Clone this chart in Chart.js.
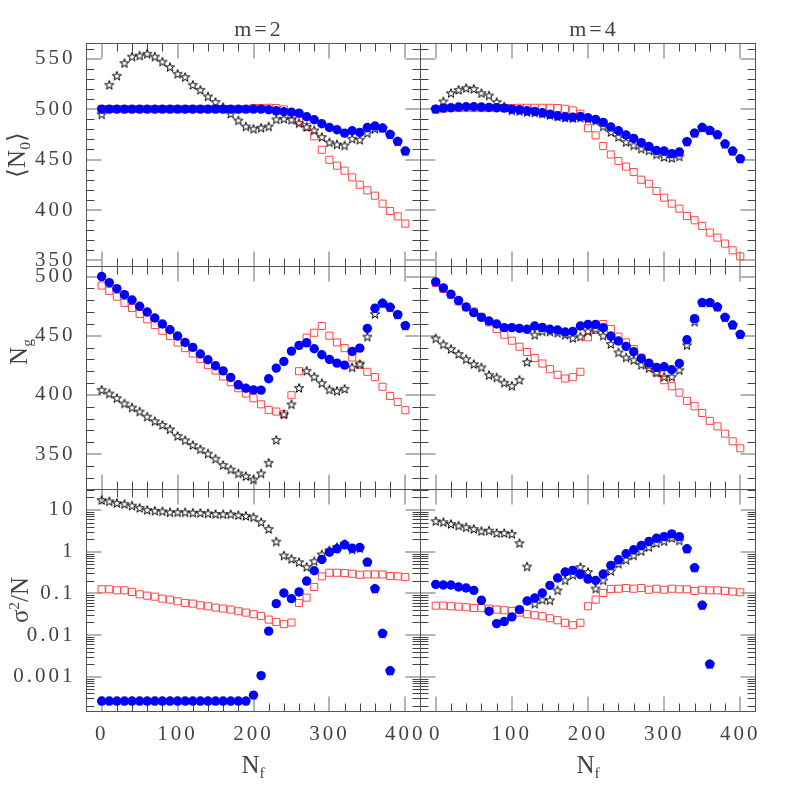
<!DOCTYPE html>
<html><head><meta charset="utf-8">
<script src="https://cdn.jsdelivr.net/npm/chart.js@4.4.1/dist/chart.umd.min.js"></script>
<style>
html,body{margin:0;padding:0;background:#fff;}
#wrap{position:relative;width:797px;height:797px;overflow:hidden;background:#fff;}
#wrap canvas{position:absolute;left:0;top:0;}
.t{position:absolute;font-family:"Liberation Serif",serif;color:#444;white-space:nowrap;line-height:1;transform:translate(-50%,-50%);}
.r{transform:translate(-50%,-50%) rotate(-90deg);}
.t sub{font-size:62%;vertical-align:-0.35em;line-height:0;}
.t sup{font-size:62%;vertical-align:0.55em;line-height:0;}
</style></head><body>
<div id="wrap">
<canvas id="c00" width="797" height="797"></canvas>
<canvas id="c01" width="797" height="797"></canvas>
<canvas id="c10" width="797" height="797"></canvas>
<canvas id="c11" width="797" height="797"></canvas>
<canvas id="c20" width="797" height="797"></canvas>
<canvas id="c21" width="797" height="797"></canvas>
<div class="t" style="left:259px;top:29px;font-size:22px;letter-spacing:3px;">m=2</div>
<div class="t" style="left:594px;top:29px;font-size:22px;letter-spacing:3px;">m=4</div>
<div class="t" style="left:253px;top:764px;font-size:25px;">N<sub>f</sub></div>
<div class="t" style="left:588px;top:764px;font-size:25px;">N<sub>f</sub></div>
<div class="t r" style="left:16px;top:155px;font-size:25px;">⟨N<sub>0</sub>⟩</div>
<div class="t r" style="left:18px;top:352px;font-size:25px;">N<sub>g</sub></div>
<div class="t r" style="left:19px;top:600px;font-size:25px;">σ<sup>2</sup>/N</div>
</div>
<script>
// ---------------- data ----------------
const nf = [0,10,20,30,40,50,60,70,80,90,100,110,120,130,140,150,160,170,180,190,200,
            210,220,230,240,250,260,270,280,290,300,310,320,330,340,350,360,370,380,390,400];

const xTicks = [0,100,200,300,400];
const yTicksN0 = [350,400,450,500,550];
const yTicksNg = [350,400,450,500];
const yTicksVar = [0.001,0.01,0.1,1,10];
const yTickVarLabels = ['0.001','0.01','0.1','1','10'];

// <N0>, m=2
const n0m2Circ = [500,500,500,500,500,500,500,500,500,500,500,500,500,500,500,500,500,500,500,500,
  500,500,499.3,498.3,497.4,497,496,492.4,489.4,485.5,481.8,479.5,476.2,478.5,476.9,481.8,483.2,481.2,474.9,468,458.4];
const n0m2Sq = [500,500,500,500,500,500,500,500,500,500,500,500,500,500,500,500,500,500,500,500,
  501,501,501.3,501,499.7,495,488,482.2,473,459.7,449.8,443.9,439,432.3,425,419.5,414.2,406.3,399,393.7,386.5];
const n0m2Star = [494.7,524,533,545.5,552,553,554.8,552,547,541.6,535,531.7,524,519,512.5,507,502,495.4,488.8,482.8,
  480.5,481.5,482.8,489.8,490.4,489.4,486,482.2,478.9,472.3,467,465,464,470.6,469.6,476.2,480.5,481.2,474.9,468,458.4];

// <N0>, m=4
const n0m4Circ = [500,501,501.3,502,502.3,502.3,502,501.7,501.3,501,500,499.3,498.3,497.7,496.4,495,493.4,492.4,492,492.7,
  491.4,489.8,486.8,482.2,478.5,474.3,471,466.7,463,459,458.4,455.8,457.4,467.7,476.2,481.8,478.9,474.6,465.4,458.4,450.8];
const n0m4Sq = [500,500.5,501,501,501,501,501,501,501,501,501,501.3,501.3,501.3,501.3,501.3,501,500.3,498.7,495.4,
  481,474,463.4,455,448.5,443,437.6,430,426,418.8,412.2,406.3,401.3,394,389.8,384.2,377.6,372.6,366.7,360,354];
const n0m4Star = [500,507.6,515.8,519,520.8,520,515.8,513.5,507,502.6,498.7,498,497,496.5,495.5,494,492.5,491.5,491,491.5,
  490.5,488.5,482.8,477.2,472.3,467.3,464,460.7,459,455,452.5,451.5,453,467.7,476.2,481.8,478.9,474.6,465.4,458.4,450.8];

// Ng, m=2
const ngm2Circ = [500,494.9,489.8,484.7,480.2,474.9,470,465,459.9,455,449.7,444.3,440.1,434.5,429.7,424.6,420.3,414.7,408.5,405.6,
  404.2,404,413.6,422.6,428.2,437,441.8,444,439,433.9,430,426.8,425.1,436.7,439.5,456.2,473.2,477.4,474,467.8,458.5];
const ngm2Sq = [492.4,487.9,483,477.7,473.4,468.4,463.8,459,454.2,449.7,444.3,439.5,435,430.2,425.1,420.6,415.5,410.7,405.6,401.1,
  397.2,392,387.3,385.9,383.6,399.7,420,448.3,452.5,458.2,450,444.3,439.5,431.6,425.4,419.5,415,406.8,399.1,394,387];
const ngm2Star = [404.2,401.1,397.2,392.7,389.3,385.9,381.6,377.7,374.6,370.9,365.2,361.6,357.6,354,350.3,346,340.7,337,333.6,331.3,
  328.5,333.6,342.6,361.9,383.6,392,405.9,420.3,415.3,409.9,404.5,403.4,405.1,423.2,426,449.2,468.4,477.4,474,467.8,458.5];

// Ng, m=4
const ngm4Circ = [495.5,490.4,485,479.7,474.3,469.5,465.5,462.4,459.9,456.8,456.8,456.2,455.4,458.2,457,455.4,454.8,453.1,453.7,458.2,
  459.6,459.6,456.8,449.7,445.5,441,436.4,430.8,426.8,423.2,423.7,421.2,426.5,446.6,464.4,478,478,474.3,465.5,459,451.1];
const ngm4Sq = [494.5,489.5,484.5,479,474,470.5,466,461.3,455.7,450.8,445.8,440.7,436.2,431.1,426.5,421.7,417,413.8,415,419.5,
  448.6,454.8,459.9,455.6,449.2,444.3,438.7,431.5,425.1,418.9,412.4,407.3,401.9,394.9,390.4,384.7,378,373.4,367.2,360.7,354.8];
const ngm4Star = [447.7,442.7,438.7,434.5,430.2,426,423.2,416.7,414.7,410.2,407.6,412.7,427.7,450.8,453.7,453.5,452.5,450.8,448,449.2,
  453.7,455.6,450,443,435.9,431.6,429.4,425.4,422.6,418.9,415.3,415.3,420.9,442,461.8,478,478,474.3,465.5,459,451.1];

// sigma^2/N, m=2
const varm2Circ = [2.6e-4,2.6e-4,2.6e-4,2.6e-4,2.6e-4,2.6e-4,2.6e-4,2.6e-4,2.6e-4,2.6e-4,2.6e-4,2.6e-4,2.6e-4,2.6e-4,2.6e-4,2.6e-4,2.6e-4,2.6e-4,2.6e-4,2.6e-4,
  3.6e-4,1.06e-3,0.0124,0.0566,0.102,0.0746,0.108,0.197,0.348,0.65,0.97,1.17,1.46,1.21,1.26,0.56,0.129,0.0109,1.39e-3,null,null];
const varm2Sq = [0.125,0.125,0.118,0.118,0.108,0.0946,0.0879,0.0832,0.0746,0.0706,0.0644,0.0588,0.0566,0.0516,0.0489,0.0454,0.043,0.0407,0.0371,0.0345,
  0.0315,0.0287,0.0234,0.0206,0.0182,0.0199,0.0588,0.0787,0.142,0.255,0.312,0.312,0.306,0.295,0.279,0.284,0.284,0.284,0.26,0.255,0.245];
const varm2Star = [17.3,16.1,14.7,13.9,12.7,11.2,10,9.6,9.3,8.8,8.8,8.8,8.6,8.5,8.3,8.0,7.9,7.9,7.5,7.2,
  6.7,5.1,3.5,1.75,0.81,0.67,0.56,0.43,0.59,0.86,1.07,1.28,1.54,1.13,1.21,0.56,0.129,0.0109,1.39e-3,null,null];

// sigma^2/N, m=4
const varm4Circ = [0.164,0.158,0.158,0.142,0.134,0.118,0.068,0.0372,0.0188,0.021,0.0272,0.0407,0.0656,0.0774,0.102,0.155,0.233,0.324,0.355,0.284,
  0.22,0.205,0.29,0.467,0.638,0.888,1.11,1.40,1.75,2.1,2.3,2.67,2.3,1.17,0.41,0.0516,2.0e-3,null,null,null,null];
const varm4Sq = [0.0507,0.0507,0.0489,0.048,0.0463,0.0446,0.044,0.043,0.0407,0.0393,0.0379,0.0345,0.0315,0.0298,0.0282,0.0252,0.0226,0.0196,0.0172,0.0196,
  0.0489,0.0706,0.102,0.127,0.129,0.134,0.129,0.134,0.122,0.129,0.122,0.129,0.125,0.125,0.114,0.122,0.118,0.118,0.114,0.11,0.106];
const varm4Star = [5.4,5.1,4.6,4.2,3.85,3.5,3.1,3.2,2.8,2.8,2.67,1.6,0.44,0.0566,0.0706,0.068,0.118,0.205,0.277,0.427,
  0.324,0.13,0.205,0.342,0.51,0.638,0.81,1.03,1.28,1.6,1.78,2.14,1.85,1.17,0.41,0.0516,2.0e-3,null,null,null,null];

// ---------------- layout ----------------
const colX = [[86.5,420.5],[420.5,755.5]];
const rowY = [[43.5,266.5],[266.5,489.5],[489.5,711.5]];
const Y_AXIS_W = 86, X_AXIS_H = 50;
const FONT = {family:'"Liberation Serif", serif', size:21};
const TXT = '#444';

function makeStar(){
  const c = document.createElement('canvas');
  c.width = 12; c.height = 12;
  const g = c.getContext('2d');
  g.beginPath();
  for (let i = 0; i < 10; i++) {
    const r = (i % 2) ? 1.9 : 4.8;
    const a = -Math.PI/2 + i*Math.PI/5;
    g.lineTo(6 + r*Math.cos(a), 6.4 + r*Math.sin(a));
  }
  g.closePath();
  g.strokeStyle = '#000';
  g.lineWidth = 1;
  g.stroke();
  return c;
}
const starImg = makeStar();

const framePlugin = {
  id: 'frameTicks',
  beforeDraw(chart){ try { chart.ctx.letterSpacing = '3px'; } catch(e){} },
  beforeDatasetsDraw(chart){
    const ctx = chart.ctx, a = chart.chartArea, xs = chart.scales.x, ys = chart.scales.y;
    ctx.save();
    const MAJ = 15, MIN = 8;
    function tickX(v, major){
      const px = Math.round(xs.getPixelForValue(v)) + (major ? 0 : 0.5);
      const L = major ? MAJ : MIN;
      ctx.strokeStyle = major ? '#b4b4b4' : '#444';
      ctx.lineWidth = major ? 2 : 1;
      ctx.beginPath();
      ctx.moveTo(px, a.bottom); ctx.lineTo(px, a.bottom - L);
      ctx.moveTo(px, a.top); ctx.lineTo(px, a.top + L);
      ctx.stroke();
    }
    function tickY(v, major){
      const py = Math.round(ys.getPixelForValue(v)) + (major ? 0 : 0.5);
      const L = major ? MAJ : MIN;
      ctx.strokeStyle = major ? '#b4b4b4' : '#444';
      ctx.lineWidth = major ? 2 : 1;
      ctx.beginPath();
      ctx.moveTo(a.left, py); ctx.lineTo(a.left + L, py);
      ctx.moveTo(a.right, py); ctx.lineTo(a.right - L, py);
      ctx.stroke();
    }
    for (let v = 0; v <= 400; v += 20) tickX(v, v % 100 === 0);
    if (ys.type === 'logarithmic') {
      for (let d = -5; d <= 2; d++) {
        for (let k = 1; k <= 9; k++) {
          const v = k * Math.pow(10, d);
          if (v > ys.min * 1.02 && v < ys.max * 0.98) tickY(v, k === 1);
        }
      }
    } else {
      for (let v = Math.ceil(ys.min/10)*10; v <= ys.max; v += 10) {
        if (v - ys.min < 1 || ys.max - v < 1) continue;
        tickY(v, v % 50 === 0);
      }
    }
    ctx.strokeStyle = '#555';
    ctx.lineWidth = 1;
    ctx.strokeRect(a.left, a.top, a.right - a.left, a.bottom - a.top);
    ctx.restore();
  }
};

function pts(arr){ return arr.map((v,i) => ({x: nf[i], y: v})); }

const panels = [
  {id:'c00', row:0, col:0, circ:n0m2Circ, sq:n0m2Sq, star:n0m2Star, log:false, min:344, max:565, ticks:yTicksN0},
  {id:'c01', row:0, col:1, circ:n0m4Circ, sq:n0m4Sq, star:n0m4Star, log:false, min:344, max:565, ticks:yTicksN0},
  {id:'c10', row:1, col:0, circ:ngm2Circ, sq:ngm2Sq, star:ngm2Star, log:false, min:320, max:508.5, ticks:yTicksNg},
  {id:'c11', row:1, col:1, circ:ngm4Circ, sq:ngm4Sq, star:ngm4Star, log:false, min:320, max:508.5, ticks:yTicksNg},
  {id:'c20', row:2, col:0, circ:varm2Circ, sq:varm2Sq, star:varm2Star, log:true, min:1.46e-4, max:31, ticks:yTicksVar},
  {id:'c21', row:2, col:1, circ:varm4Circ, sq:varm4Sq, star:varm4Star, log:true, min:1.46e-4, max:31, ticks:yTicksVar}
];

panels.forEach(p => {
  const [x0, x1] = colX[p.col];
  const [y0, y1] = rowY[p.row];
  const showY = p.col === 0;
  const showX = p.row === 2;
  const padding = {
    left: showY ? x0 - Y_AXIS_W : x0,
    right: 797 - x1,
    top: y0,
    bottom: showX ? 797 - y1 - X_AXIS_H : 797 - y1
  };
  new Chart(document.getElementById(p.id), {
    type: 'scatter',
    data: {
      datasets: [
        {data: pts(p.circ), pointStyle:'circle', pointRadius:4.7, backgroundColor:'#0000ff', borderColor:'#0000ff', borderWidth:0},
        {data: pts(p.star), pointStyle: starImg, pointRadius:5},
        {data: pts(p.sq), pointStyle:'rect', pointRadius:5, backgroundColor:'rgba(0,0,0,0)', borderColor:'#ff4646', borderWidth:1}
      ]
    },
    options: {
      responsive: false, animation: false, devicePixelRatio: 1, events: [],
      layout: {padding},
      plugins: {legend:{display:false}, tooltip:{enabled:false}, title:{display:false}},
      scales: {
        x: {
          type:'linear', min:-20, max:420, display: showX,
          grid:{display:false, drawTicks:false}, border:{display:false},
          afterBuildTicks: s => { s.ticks = xTicks.map(v => ({value:v})); },
          afterFit: s => { s.height = showX ? X_AXIS_H : 0; },
          ticks:{font:FONT, color:TXT, padding:10, autoSkip:false, maxRotation:0, callback: v => String(v)}
        },
        y: {
          type: p.log ? 'logarithmic' : 'linear', min:p.min, max:p.max, display: showY,
          grid:{display:false, drawTicks:false}, border:{display:false},
          afterBuildTicks: s => { s.ticks = p.ticks.map(v => ({value:v})); },
          afterFit: s => { s.width = showY ? Y_AXIS_W : 0; },
          ticks:{font:FONT, color:TXT, padding:11, autoSkip:false,
            callback: v => p.log ? yTickVarLabels[yTicksVar.indexOf(v)] : String(v)}
        }
      }
    },
    plugins: [framePlugin]
  });
});
</script>
</body></html>
